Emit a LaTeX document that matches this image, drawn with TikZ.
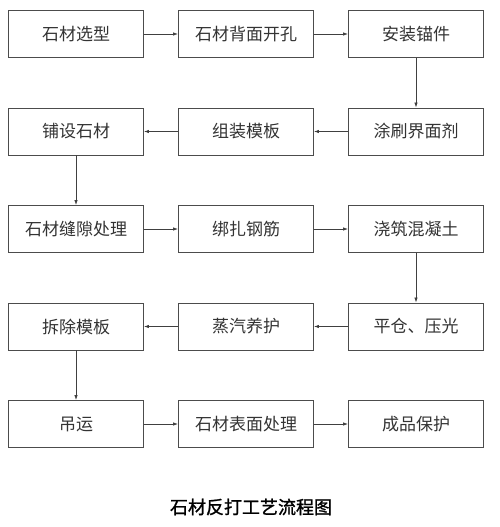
\documentclass[tikz,border=0pt]{standalone}
\usepackage{fontspec}
\setmainfont{Noto Sans CJK SC}
\newfontfamily\titlefont[FakeBold=1.2]{Noto Sans CJK SC}
\usetikzlibrary{arrows.meta, positioning}

\tikzset{
    stepbox/.style={draw=black!70, line width=0.9pt, minimum width=135pt, minimum height=47pt,
        inner sep=0pt, font=\fontsize{17}{17}\selectfont, text=black!80},
    flow/.style={->, draw=black!75, line width=0.8pt}
}

\begin{document}
\begin{tikzpicture}[x=1pt, y=1pt, >={Latex[length=5pt,width=3.5pt]}, node distance=97.5pt and 170pt, on grid]
        \useasboundingbox (0,0) rectangle (500,-527);
        % row 1
        \node[stepbox] (s1) at (76,-34) {石材选型};
        \node[stepbox] (s2) [right=of s1] {石材背面开孔};
        \node[stepbox] (s3) [right=of s2] {安装锚件};
        % row 2
        \node[stepbox] (s4) [below=of s3] {涂刷界面剂};
        \node[stepbox] (s5) [left=of s4] {组装模板};
        \node[stepbox] (s6) [left=of s5] {铺设石材};
        % row 3
        \node[stepbox] (s7) [below=of s6] {石材缝隙处理};
        \node[stepbox] (s8) [right=of s7] {绑扎钢筋};
        \node[stepbox] (s9) [right=of s8] {浇筑混凝土};
        % row 4
        \node[stepbox] (s10) [below=of s9] {平仓、压光};
        \node[stepbox] (s11) [left=of s10] {蒸汽养护};
        \node[stepbox] (s12) [left=of s11] {拆除模板};
        % row 5
        \node[stepbox] (s13) [below=of s12] {吊运};
        \node[stepbox] (s14) [right=of s13] {石材表面处理};
        \node[stepbox] (s15) [right=of s14] {成品保护};
        % caption
        \node[font=\titlefont\fontsize{18}{18}\selectfont] (title) at (251,-507) {石材反打工艺流程图};
        \path[flow]
        (s1) edge (s2)
        (s2) edge (s3)
        (s3) edge (s4)
        (s4) edge (s5)
        (s5) edge (s6)
        (s6) edge (s7)
        (s7) edge (s8)
        (s8) edge (s9)
        (s9) edge (s10)
        (s10) edge (s11)
        (s11) edge (s12)
        (s12) edge (s13)
        (s13) edge (s14)
        (s14) edge (s15)
        ;
    \end{tikzpicture}
\end{document}
